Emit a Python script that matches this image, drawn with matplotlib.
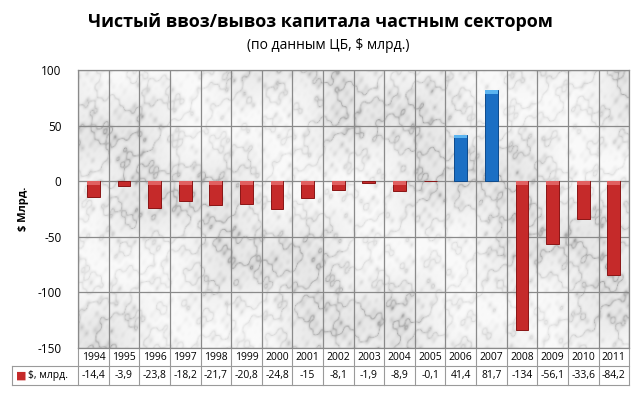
import numpy as np
import matplotlib
matplotlib.use("Agg")
from matplotlib import pyplot as plt
from matplotlib.colors import LinearSegmentedColormap

years = ['1994', '1995', '1996', '1997', '1998', '1999', '2000', '2001', '2002',
         '2003', '2004', '2005', '2006', '2007', '2008', '2009', '2010', '2011']
values = [-14.4, -3.9, -23.8, -18.2, -21.7, -20.8, -24.8, -15, -8.1,
          -1.9, -8.9, -0.1, 41.4, 81.7, -134, -56.1, -33.6, -84.2]
value_labels = ['-14,4', '-3,9', '-23,8', '-18,2', '-21,7', '-20,8', '-24,8', '-15', '-8,1',
                '-1,9', '-8,9', '-0,1', '41,4', '81,7', '-134', '-56,1', '-33,6', '-84,2']
yticks = [-150, -100, -50, 0, 50, 100]
series_name = '$, млрд.'

plt.rcParams['font.family'] = ['Open Sans', 'DejaVu Sans']

fig = plt.figure(figsize=(6.4, 3.93), dpi=100)
ax = fig.add_axes([0.122, 0.1145, 0.861, 0.7075])

n = len(years)
x = np.arange(n)

# marble-ish background (deterministic, decorative only)
gx, gy = np.meshgrid(np.linspace(0, 12, 600), np.linspace(0, 6, 300))
turb = (np.sin(gx * 1.7 + gy * 2.3) + 0.6 * np.sin(gx * 3.9 - gy * 4.7)
        + 0.35 * np.sin(gx * 8.3 + gy * 7.1) + 0.25 * np.sin(gx * 17.0 - gy * 13.0)
        + 0.15 * np.sin(gx * 31.0 + gy * 23.0))
veins = np.abs(np.sin((gx + gy * 0.8) * 2.2 + turb * 1.8))
cloud = 0.5 + 0.5 * np.sin(gx * 0.9 - gy * 1.3 + 0.7 * np.sin(gx * 2.1 + gy * 1.7))
marble = 0.6 * veins ** 0.5 + 0.4 * cloud
cmap = LinearSegmentedColormap.from_list('marble', ['#9c9c9c', '#d4d4d4', '#ececec', '#fafafa'])
ax.imshow(marble, extent=[-0.5, n - 0.5, -150, 100], aspect='auto', cmap=cmap,
          vmin=0.0, vmax=1.0, zorder=0, interpolation='bilinear')

ax.set_xlim(-0.5, n - 0.5)
ax.set_ylim(-150, 100)

# grid
for xb in np.arange(-0.5, n, 1):
    ax.axvline(xb, color='#8a8a8a', lw=0.9, zorder=1)
for yt in yticks:
    ax.axhline(yt, color='#8a8a8a', lw=0.9, zorder=1)

colors = ['#1b6fc4' if v > 0 else '#c52a2a' for v in values]
edges = ['#0d4a8c' if v > 0 else '#8a1515' for v in values]
ax.bar(x, values, width=0.42, color=colors, edgecolor=edges, linewidth=0.7, zorder=3)
# light cap at the zero end / top to hint the 3D look
for xi, v in zip(x, values):
    if abs(v) > 4:
        cap = '#5bb4f0' if v > 0 else '#e06060'
        ax.bar(xi, 3 if v > 0 else -3, bottom=v - 3 if v > 0 else 0, width=0.42,
               color=cap, linewidth=0, zorder=4)

ax.set_xticks([])
ax.set_yticks(yticks)
ax.set_yticklabels([str(t) for t in yticks], fontsize=8.5)
ax.tick_params(axis='y', length=0, pad=12)
for s in ax.spines.values():
    s.set_color('#8a8a8a')
    s.set_linewidth(0.9)

ax.set_ylabel('$ Млрд.', fontsize=8, fontweight='bold', labelpad=6)

# data table under the axes
row_h = 0.066
trans = ax.transAxes
label_left = -0.12
line_kw = dict(color='#9a9a9a', lw=0.8, transform=trans, clip_on=False)
ax.plot([0, 1], [-row_h, -row_h], **line_kw)
ax.plot([label_left, 1], [-2 * row_h, -2 * row_h], **line_kw)
ax.plot([label_left, label_left], [-row_h, -2 * row_h], **line_kw)
ax.plot([label_left, 0], [-row_h, -row_h], **line_kw)
for i in range(n + 1):
    xa = i / n
    ax.plot([xa, xa], [0, -2 * row_h], **line_kw)
for i in range(n):
    xc = (i + 0.5) / n
    ax.text(xc, -row_h / 2, years[i], transform=trans, ha='center', va='center', fontsize=7.5)
    ax.text(xc, -1.5 * row_h, value_labels[i], transform=trans, ha='center', va='center', fontsize=7.5)
ax.text(label_left + 0.008, -1.5 * row_h, '■', color='#c52a2a', transform=trans,
        ha='left', va='center', fontsize=8, family=['DejaVu Sans'])
ax.text(label_left + 0.03, -1.5 * row_h, series_name, transform=trans,
        ha='left', va='center', fontsize=7.5)

fig.text(0.5, 0.945, 'Чистый ввоз/вывоз капитала частным сектором', ha='center', va='center',
         fontsize=13, fontweight='bold')
fig.text(0.513, 0.885, '(по данным ЦБ, $ млрд.)', ha='center', va='center', fontsize=10)

fig.savefig('out.png', dpi=100)
